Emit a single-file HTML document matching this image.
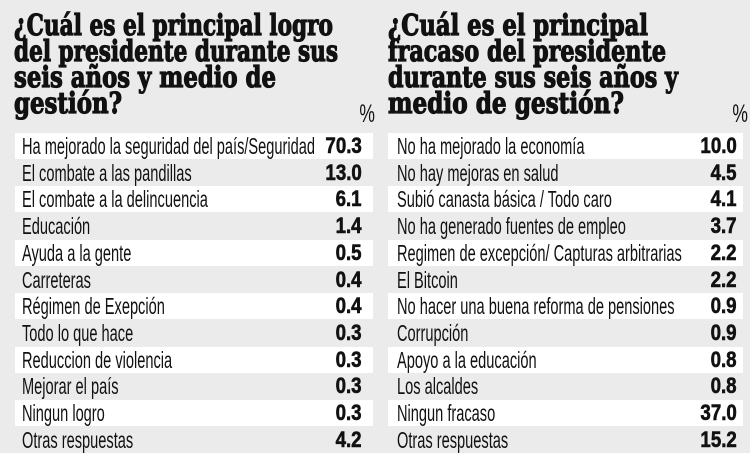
<!DOCTYPE html>
<html><head><meta charset="utf-8">
<style>
html,body{margin:0;padding:0;}
body{width:750px;height:450px;overflow:hidden;background:#ebebeb;position:relative;font-family:"Liberation Sans",sans-serif;color:#111;}
.t{position:absolute;font-family:"DejaVu Serif","Liberation Serif",serif;font-weight:bold;font-size:29px;line-height:26px;white-space:nowrap;transform-origin:0 0;color:#111;-webkit-text-stroke:1.2px #111;}
.row{position:absolute;height:26px;}
.w{background:#fff;}
.lab{position:absolute;top:1px;font-size:23px;line-height:24px;white-space:nowrap;transform-origin:0 50%;}
.val{position:absolute;top:1px;font-size:22px;line-height:24px;font-weight:bold;white-space:nowrap;transform-origin:100% 50%;text-align:right;-webkit-text-stroke:0.6px #111;}
.pct{position:absolute;font-size:25px;top:100px;transform:scaleX(0.7);}
</style></head><body>
<div id="titles"></div>
<div class="pct" style="left:356px">%</div>
<div class="pct" style="left:729px">%</div>
<div id="rows"></div>
<script>
var T=[
["¿Cuál es el principal logro",14,14,319],
["del presidente durante sus",14,40,324],
["seis años y medio de",14,66,262],
["gestión?",14,92,108],
["¿Cuál  es el principal",388,14,260],
["fracaso del presidente",388,40,278],
["durante sus seis años y",388,66,290],
["medio de gestión?",388,92,236]];
var tc=document.getElementById('titles');
T.forEach(function(a){var d=document.createElement('div');d.className='t';d.textContent=a[0];d.style.left=a[1]+'px';d.style.top=(a[2]-2)+'px';tc.appendChild(d);var w=d.getBoundingClientRect().width;d.style.transform='scaleX('+(a[3]/w)+')';});
var L=[["Ha mejorado la seguridad del país/Seguridad","70.3"],["El combate a las pandillas","13.0"],["El combate a la delincuencia","6.1"],["Educación","1.4"],["Ayuda a la gente","0.5"],["Carreteras","0.4"],["Régimen de Exepción","0.4"],["Todo lo que hace","0.3"],["Reduccion de violencia","0.3"],["Mejorar el país","0.3"],["Ningun logro","0.3"],["Otras respuestas","4.2"]];
var R=[["No ha mejorado la economía","10.0"],["No hay mejoras en salud","4.5"],["Subió canasta básica / Todo caro","4.1"],["No ha generado fuentes de empleo","3.7"],["Regimen de excepción/ Capturas arbitrarias","2.2"],["El Bitcoin","2.2"],["No hacer una buena reforma de  pensiones","0.9"],["Corrupción","0.9"],["Apoyo a la educación","0.8"],["Los alcaldes","0.8"],["Ningun fracaso","37.0"],["Otras respuestas","15.2"]];
var rc=document.getElementById('rows');
function build(data,x0,x1,tx,vx){
 data.forEach(function(a,i){
  var r=document.createElement('div');r.className='row'+(i%2==0?' w':'');
  r.style.left=x0+'px';r.style.width=(x1-x0)+'px';r.style.top=(133+i*26.7)+'px';
  var l=document.createElement('div');l.className='lab';l.textContent=a[0];l.style.left=(tx-x0)+'px';
  var v=document.createElement('div');v.className='val';v.textContent=a[1];v.style.right=(x1-vx)+'px';v.style.transform='scaleX(0.85)';
  r.appendChild(l);r.appendChild(v);rc.appendChild(r);
 });
}
build(L,15,373,22,362);
build(R,388,743,397,737);
var first=rc.children[0].children[0];
var w=first.getBoundingClientRect().width;var s=293/w;
Array.prototype.forEach.call(document.querySelectorAll('.lab'),function(e){e.style.transform='scaleX('+s+')';});
</script>
</body></html>
